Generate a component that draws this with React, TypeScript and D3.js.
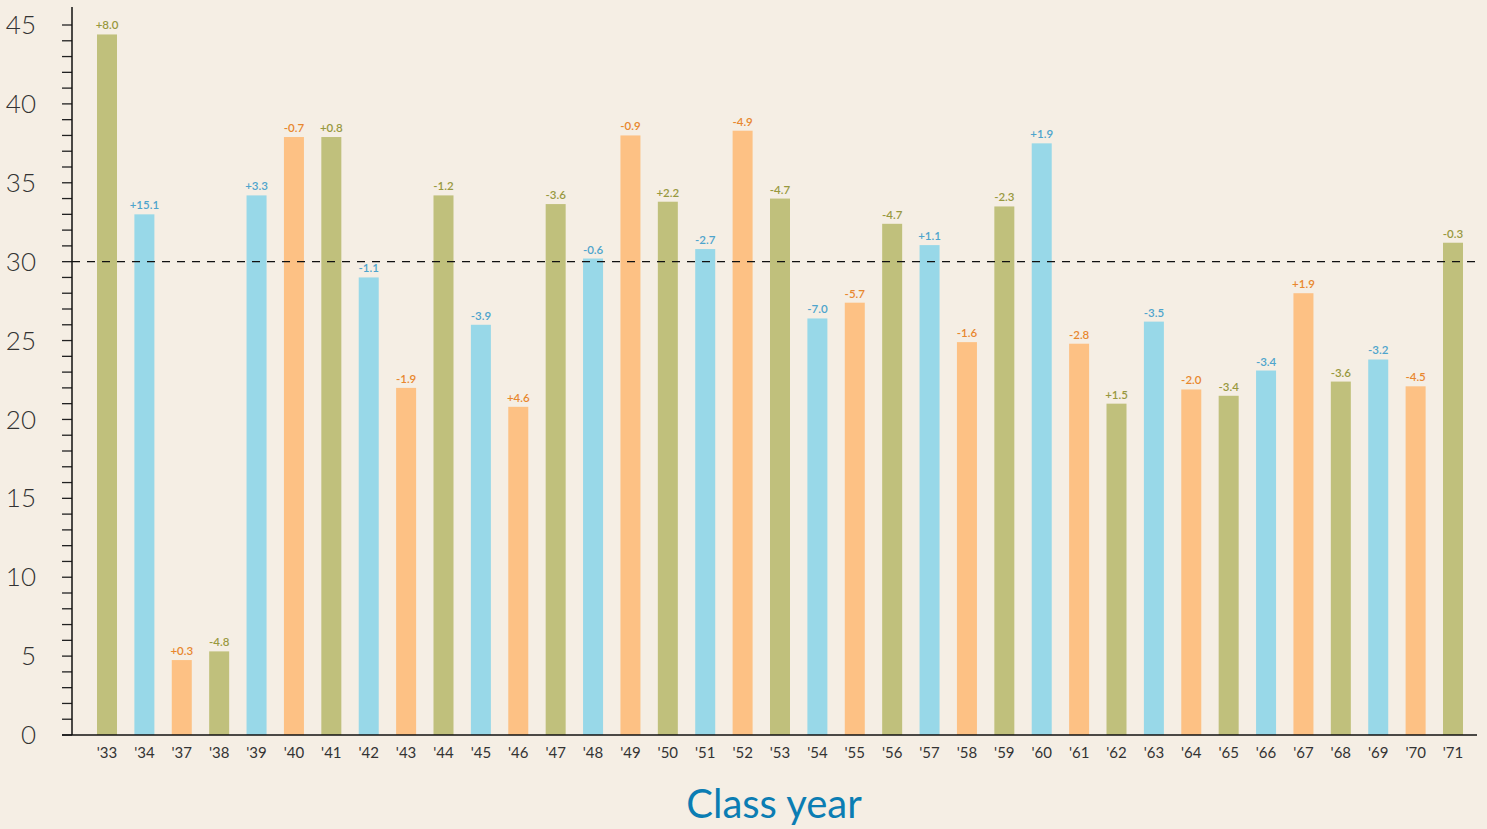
import { useEffect, useRef } from 'react';
import * as d3 from 'd3';

const years = ["'33", "'34", "'37", "'38", "'39", "'40", "'41", "'42", "'43", "'44", "'45", "'46", "'47", "'48", "'49", "'50", "'51", "'52", "'53", "'54", "'55", "'56", "'57", "'58", "'59", "'60", "'61", "'62", "'63", "'64", "'65", "'66", "'67", "'68", "'69", "'70", "'71"];
const values = [44.4, 33.0, 4.75, 5.3, 34.2, 37.9, 37.9, 29.0, 22.0, 34.2, 26.0, 20.8, 33.65, 30.2, 38.0, 33.8, 30.8, 38.3, 34.0, 26.4, 27.4, 32.4, 31.05, 24.9, 33.5, 37.5, 24.8, 21.0, 26.2, 21.9, 21.5, 23.1, 28.0, 22.4, 23.8, 22.1, 31.2];
const changes = ['+8.0', '+15.1', '+0.3', '-4.8', '+3.3', '-0.7', '+0.8', '-1.1', '-1.9', '-1.2', '-3.9', '+4.6', '-3.6', '-0.6', '-0.9', '+2.2', '-2.7', '-4.9', '-4.7', '-7.0', '-5.7', '-4.7', '+1.1', '-1.6', '-2.3', '+1.9', '-2.8', '+1.5', '-3.5', '-2.0', '-3.4', '-3.4', '+1.9', '-3.6', '-3.2', '-4.5', '-0.3'];
const yTicks = [0, 5, 10, 15, 20, 25, 30, 35, 40, 45];
const average = 30;

const barColors = ['#c0c07c', '#98d8e8', '#fdc184'];
const textColors = ['#98983e', '#4ea4cc', '#e8872e'];

export default function App() {
  const svgRef = useRef<SVGSVGElement>(null);

  useEffect(() => {
    if (!svgRef.current) return;
    const width = 1487;
    const height = 829;
    const svg = d3.select(svgRef.current);
    svg.selectAll('*').remove();

    const font = "'Gill Sans', 'Gill Sans MT', Lato, sans-serif";
    const axisX = 72;

    svg.append('rect').attr('width', width).attr('height', height).attr('fill', '#f5eee4');

    const x = d3.scaleBand()
      .domain(years)
      .range([88.3, 1471.7])
      .paddingInner(0.465)
      .paddingOuter(0.2325);

    const y = d3.scaleLinear().domain([0, 45]).range([735, 25]);

    // Bars
    svg.selectAll('.bar')
      .data(values)
      .join('rect')
      .attr('class', 'bar')
      .attr('x', (_, i) => x(years[i])!)
      .attr('y', d => y(d))
      .attr('width', x.bandwidth())
      .attr('height', d => y(0) - y(d))
      .attr('fill', (_, i) => barColors[i % 3]);

    // Change labels
    svg.selectAll('.chg')
      .data(values)
      .join('text')
      .attr('class', 'chg')
      .attr('x', (_, i) => x(years[i])! + x.bandwidth() / 2)
      .attr('y', d => y(d) - 5)
      .attr('text-anchor', 'middle')
      .attr('fill', (_, i) => textColors[i % 3])
      .style('font-family', font)
      .style('font-size', '11.5px')
      .style('font-weight', '600')
      .text((_, i) => changes[i]);

    // Average line
    svg.append('line')
      .attr('x1', axisX).attr('x2', 1476)
      .attr('y1', y(average)).attr('y2', y(average))
      .attr('stroke', '#111')
      .attr('stroke-width', 1.2)
      .attr('stroke-dasharray', '8,7');

    // Y axis
    const minor = d3.range(0, 46, 1);
    svg.selectAll('.ytick')
      .data(minor)
      .join('line')
      .attr('class', 'ytick')
      .attr('x1', axisX - 10).attr('x2', axisX)
      .attr('y1', d => y(d)).attr('y2', d => y(d))
      .attr('stroke', '#222')
      .attr('stroke-width', 1.3);

    svg.selectAll('.ylabel')
      .data(yTicks)
      .join('text')
      .attr('class', 'ylabel')
      .attr('x', 36)
      .attr('y', d => y(d))
      .attr('dy', '0.35em')
      .attr('text-anchor', 'end')
      .attr('fill', '#333')
      .style('font-family', font)
      .style('font-size', '26px')
      .style('font-weight', '300')
      .text(d => d);

    svg.append('line')
      .attr('x1', axisX).attr('x2', axisX)
      .attr('y1', 7).attr('y2', y(0))
      .attr('stroke', '#111')
      .attr('stroke-width', 1.5);

    // X axis
    svg.append('line')
      .attr('x1', axisX - 10).attr('x2', 1477)
      .attr('y1', y(0)).attr('y2', y(0))
      .attr('stroke', '#111')
      .attr('stroke-width', 1.5);

    svg.selectAll('.xlabel')
      .data(years)
      .join('text')
      .attr('class', 'xlabel')
      .attr('x', d => x(d)! + x.bandwidth() / 2)
      .attr('y', 758)
      .attr('text-anchor', 'middle')
      .attr('fill', '#333')
      .style('font-family', font)
      .style('font-size', '15px')
      .text(d => d);

    svg.append('text')
      .attr('x', 774)
      .attr('y', 818)
      .attr('text-anchor', 'middle')
      .attr('fill', '#0b7db3')
      .style('font-family', font)
      .style('font-size', '40px')
      .text('Class year');
  }, []);

  return (
    <svg
      ref={svgRef}
      width={1487}
      height={829}
      style={{ position: 'absolute', left: 0, top: 0, display: 'block' }}
    />
  );
}
